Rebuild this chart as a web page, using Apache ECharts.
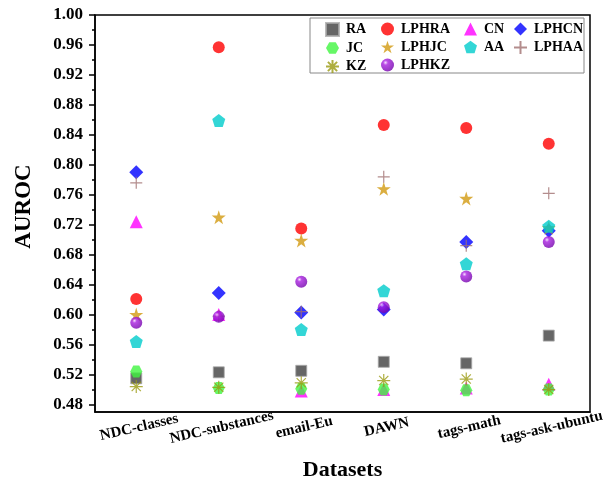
<!DOCTYPE html>
<html>
<head>
<meta charset="utf-8">
<script src="https://cdn.jsdelivr.net/npm/echarts@6/dist/echarts.min.js"></script>
<style>
  html, body { margin: 0; padding: 0; background: #fff; }
  #chart { width: 611px; height: 484px; }
</style>
</head>
<body>
<div id="chart"></div>
<script>
  // 数据集
  const categories = ['NDC-classes', 'NDC-substances', 'email-Eu', 'DAWN', 'tags-math', 'tags-ask-ubuntu'];

  // 各方法 AUROC
  const ra    = [0.515, 0.523, 0.525, 0.537, 0.535, 0.572];
  const lphra = [0.621, 0.957, 0.715, 0.853, 0.849, 0.828];
  const cn    = [0.724, 0.600, 0.498, 0.500, 0.502, 0.507];
  const lphcn = [0.790, 0.629, 0.603, 0.607, 0.697, 0.712];
  const jc    = [0.524, 0.502, 0.501, 0.500, 0.499, 0.500];
  const lphjc = [0.600, 0.730, 0.699, 0.768, 0.755, 0.716];
  const aa    = [0.564, 0.859, 0.580, 0.632, 0.668, 0.718];
  const lphaa = [0.776, 0.598, 0.604, 0.784, 0.692, 0.762];
  const kz    = [0.504, 0.503, 0.509, 0.512, 0.514, 0.500];
  const lphkz = [0.589, 0.597, 0.644, 0.610, 0.651, 0.697];

  // 刻度
  const yLabels = [0.48, 0.52, 0.56, 0.60, 0.64, 0.68, 0.72, 0.76, 0.80, 0.84, 0.88, 0.92, 0.96, 1.00];
  const yMinor  = [0.50, 0.54, 0.58, 0.62, 0.66, 0.70, 0.74, 0.78, 0.82, 0.86, 0.90, 0.94, 0.98];

  const font = "'Liberation Serif', 'Times New Roman', serif";

  // 自定义符号
  const hexagon = 'path://M-1,0L-0.5,-0.866L0.5,-0.866L1,0L0.5,0.866L-0.5,0.866Z';
  const pentagon = 'path://M0,-1L0.951,-0.309L0.588,0.809L-0.588,0.809L-0.951,-0.309Z';
  const star = 'path://M0,-1L0.225,-0.309L0.951,-0.309L0.363,0.118L0.588,0.809L0,0.382L-0.588,0.809L-0.363,0.118L-0.951,-0.309L-0.225,-0.309Z';
  const plus = 'path://M0,-1L0,1M-1,0L1,0';
  const asterisk = 'path://M0,-1L0,1M-1,0L1,0M-0.707,-0.707L0.707,0.707M-0.707,0.707L0.707,-0.707';

  const sphere = {
    type: 'radial', x: 0.35, y: 0.32, r: 0.75,
    colorStops: [
      {offset: 0, color: '#f4d8ff'},
      {offset: 0.25, color: '#a81ee0'},
      {offset: 1, color: '#7000a8'}
    ]
  };

  function scatter(name, data, symbol, size, itemStyle) {
    return {
      name: name,
      type: 'scatter',
      data: data,
      symbol: symbol,
      symbolSize: size,
      itemStyle: itemStyle
    };
  }

  const series = [
    scatter('RA', ra, 'rect', 11, {color: '#404040', borderColor: '#aaaaaa', borderWidth: 1}),
    scatter('LPHRA', lphra, 'circle', 12, {color: '#ff0000'}),
    scatter('CN', cn, 'triangle', 13, {color: '#ff00ff'}),
    scatter('LPHCN', lphcn, 'diamond', 14, {color: '#0000ff'}),
    scatter('JC', jc, hexagon, 12, {color: '#40f540'}),
    scatter('LPHJC', lphjc, star, 14, {color: '#d29a10'}),
    scatter('AA', aa, pentagon, 13, {color: '#00cccc'}),
    scatter('LPHAA', lphaa, plus, 12, {color: 'transparent', borderColor: '#a07070', borderWidth: 1.2}),
    scatter('KZ', kz, asterisk, 13, {color: 'transparent', borderColor: '#9a9a10', borderWidth: 1.2}),
    scatter('LPHKZ', lphkz, 'circle', 12, {color: sphere})
  ];

  function legendCol(left, names) {
    return {
      left: left,
      top: 17,
      orient: 'vertical',
      itemGap: 4,
      itemWidth: 13,
      itemHeight: 13,
      data: names,
      textStyle: {fontFamily: font, fontWeight: 'bold', fontSize: 14, color: '#000', padding: [0, 0, 0, 2]}
    };
  }

  const chart = echarts.init(document.getElementById('chart'));
  chart.setOption({
    animation: false,
    grid: {
      left: 95, right: 21, top: 15, bottom: 72,
      outerBoundsMode: 'none',
      containLabel: false,
      show: true,
      borderColor: '#000',
      borderWidth: 1.5
    },
    legend: [
      legendCol(320, ['RA', 'JC', 'KZ']),
      legendCol(376, ['LPHRA', 'LPHJC', 'LPHKZ']),
      legendCol(459, ['CN', 'AA']),
      legendCol(508, ['LPHCN', 'LPHAA'])
    ],
    graphic: [{
      type: 'rect',
      shape: {x: 310, y: 18, width: 274, height: 55},
      style: {fill: 'none', stroke: '#888', lineWidth: 1},
      z: 0
    }],
    xAxis: [
      {
        type: 'category',
        data: categories,
        boundaryGap: true,
        name: 'Datasets',
        nameLocation: 'middle',
        nameGap: 47,
        nameTextStyle: {fontFamily: font, fontWeight: 'bold', fontSize: 22, color: '#000'},
        axisLine: {lineStyle: {color: '#000', width: 1.5}},
        axisTick: {alignWithLabel: true, length: 6, lineStyle: {color: '#000', width: 1.5}},
        axisLabel: {
          rotate: 13,
          align: 'center',
          margin: 16,
          interval: 0,
          padding: [0, 0, 0, 6],
          fontFamily: font, fontWeight: 'bold', fontSize: 15, color: '#000'
        },
        splitLine: {show: false}
      },
      {
        type: 'category',
        data: categories,
        boundaryGap: true,
        position: 'bottom',
        axisLine: {show: false},
        axisTick: {length: 3, lineStyle: {color: '#000', width: 1.5}},
        axisLabel: {show: false},
        splitLine: {show: false}
      }
    ],
    yAxis: [
      {
        type: 'value',
        min: 0.47,
        max: 1.0,
        name: 'AUROC',
        nameLocation: 'middle',
        nameGap: 59,
        nameTextStyle: {fontFamily: font, fontWeight: 'bold', fontSize: 23, color: '#000', padding: [0, 0, 0, 14]},
        axisLine: {show: true, lineStyle: {color: '#000', width: 1.5}},
        axisTick: {show: true, length: 6, customValues: yLabels, lineStyle: {color: '#000', width: 1.5}},
        axisLabel: {
          customValues: yLabels,
          formatter: v => v.toFixed(2),
          margin: 12,
          fontFamily: font, fontWeight: 'bold', fontSize: 17, color: '#000'
        },
        splitLine: {show: false}
      },
      {
        type: 'value',
        min: 0.47,
        max: 1.0,
        position: 'left',
        axisLine: {show: false},
        axisTick: {show: true, length: 3, customValues: yMinor, lineStyle: {color: '#000', width: 1.5}},
        axisLabel: {show: false},
        splitLine: {show: false}
      }
    ],
    series: series
  });
</script>
</body>
</html>
